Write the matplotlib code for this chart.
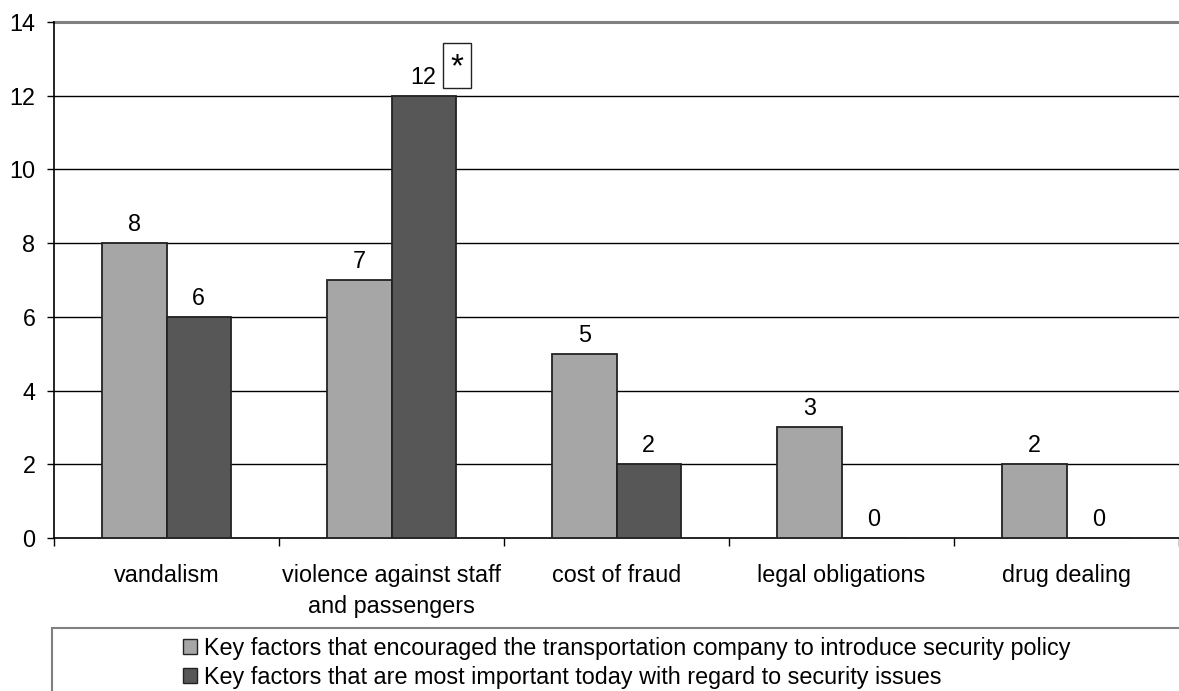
#!/usr/bin/env python3

import numpy as np
import matplotlib
matplotlib.use('Agg')
import matplotlib.pyplot as plt
from matplotlib.patches import Rectangle, Patch

categories = ['vandalism', 'violence against staff\nand passengers', 'cost of fraud',
              'legal obligations', 'drug dealing']
encouraged = [8, 7, 5, 3, 2]
important_today = [6, 12, 2, 0, 0]
series_names = ['Key factors that encouraged the transportation company to introduce security policy',
                'Key factors that are most important today with regard to security issues']
yticks = [0, 2, 4, 6, 8, 10, 12, 14]

plt.rcParams['font.family'] = ['Liberation Sans', 'DejaVu Sans']
fs = 16.8
plt.rcParams['font.size'] = fs

light = '#A6A6A6'
dark = '#575757'

fig = plt.figure(figsize=(11.79, 6.91), dpi=100)
ax = fig.add_axes([54/1179, 153/691, 1 - 54/1179, (538 - 22)/691])

x = np.arange(len(categories))
w = 1 / 3.5
b1 = ax.bar(x - w/2, encouraged, w, color=light, edgecolor='#222222', linewidth=1.3, zorder=3)
b2 = ax.bar(x + w/2, important_today, w, color=dark, edgecolor='#222222', linewidth=1.3, zorder=3)

for bars, vals in ((b1, encouraged), (b2, important_today)):
    for r, v in zip(bars, vals):
        ax.annotate(str(v), (r.get_x() + r.get_width()/2, v), xytext=(0, 5),
                    textcoords='offset points', ha='center', va='bottom', fontsize=fs)

# the starred box next to the 12
bx = 1 + w
ax.add_patch(Rectangle((bx - 0.058, 12.22), 0.125, 1.2, fill=False,
                       edgecolor='#222222', lw=1, clip_on=False, zorder=4))
ax.text(bx + 0.004, 12.75, '*', ha='center', va='center', fontsize=fs + 7, zorder=4)

ax.set_xlim(-0.5, len(categories) - 0.5)
ax.set_ylim(0, 14)
ax.set_yticks(yticks)
for yv in yticks[1:-1]:
    ax.axhline(yv, color='black', lw=1, zorder=1)
ax.axhline(14, color='#808080', lw=2.2, zorder=1, clip_on=False)

ax.set_xticks(x)
ax.set_xticklabels(categories, fontsize=fs, linespacing=1.4)
ax.set_xticks(np.arange(len(categories) + 1) - 0.5, minor=True)
ax.tick_params(axis='x', which='major', length=0, pad=19)
ax.tick_params(axis='x', which='minor', length=6, direction='out', width=1)
ax.tick_params(axis='y', length=5, width=1, pad=8.5, labelsize=fs)

for s in ('top', 'right'):
    ax.spines[s].set_visible(False)
ax.spines['left'].set_linewidth(1.2)
ax.spines['bottom'].set_linewidth(1.2)

# legend frame runs off the bottom/right edge
fig.patches.append(Rectangle((52/1179, -0.05), 1.1, 0.05 + 1 - 628/691,
                             transform=fig.transFigure, fill=False,
                             edgecolor='#808080', lw=1.5))
handles = [Patch(facecolor=light, edgecolor='#222222', lw=1),
           Patch(facecolor=dark, edgecolor='#222222', lw=1)]
fig.legend(handles, series_names, loc='upper left', bbox_to_anchor=(183/1179, 1 - 637/691),
           frameon=False, fontsize=fs, handlelength=0.6, handleheight=0.6,
           handletextpad=0.3, labelspacing=0.25, borderpad=0, borderaxespad=0)

fig.savefig('out.png', dpi=100)
